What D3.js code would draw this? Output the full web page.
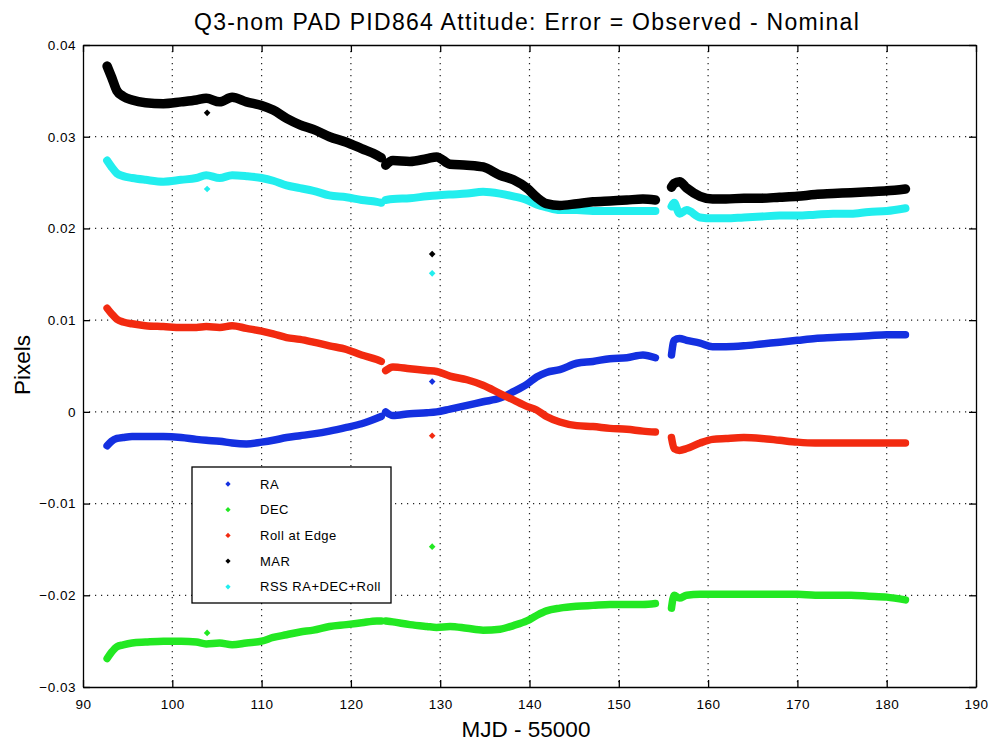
<!DOCTYPE html>
<html>
<head>
<meta charset="utf-8">
<script src="https://cdn.jsdelivr.net/npm/d3@7"></script>
<style>
  body { margin: 0; background: #fff; }
  text { font-family: "Liberation Sans", Arial, sans-serif; fill: #000; }
</style>
</head>
<body>
<div id="visual"></div>
<script>
// MJD - 55000, null = gap in the data
const mjd = [92.7, 93.2, 93.8, 94.5, 95.5, 97, 99, 101, 102.7, 103.8, 105.3, 106.7, 108.3, 110, 111.3, 112.8, 114.3, 115.8, 117.6, 119.5, 121.2, 122.9, 123.4,
  null,
  123.9, 124.7, 126.6, 128.5, 129.6, 131.1, 133, 134.8, 136.7, 138.2, 139.7, 140.8, 141.9, 143.4, 145.3, 147.1, 149, 150.9, 152.7, 154.1,
  null,
  155.9, 156.2, 156.8, 157.6, 159.1, 160.5, 162, 164, 166, 168, 170, 172, 174, 176, 178, 180, 182.1];

const raVals = [-0.0037, -0.0032, -0.0029, -0.0028, -0.0027, -0.0027, -0.0027, -0.0028, -0.0030, -0.0031, -0.0032, -0.0034, -0.0035, -0.0033, -0.0031, -0.0028, -0.0026, -0.0024, -0.0021, -0.0017, -0.0013, -0.0007, -0.0005,
  null,
  0.0000, -0.0004, -0.0002, -0.0001, 0.0000, 0.0003, 0.0007, 0.0011, 0.0015, 0.0022, 0.0030, 0.0038, 0.0043, 0.0046, 0.0053, 0.0055, 0.0058, 0.0059, 0.0062, 0.0059,
  null,
  0.0062, 0.0078, 0.0080, 0.0078, 0.0075, 0.0071, 0.0071, 0.0072, 0.0074, 0.0076, 0.0078, 0.0080, 0.0081, 0.0082, 0.0083, 0.0084, 0.0084];

const decVals = [-0.0269, -0.0262, -0.0256, -0.0254, -0.0252, -0.0251, -0.0250, -0.0250, -0.0251, -0.0253, -0.0252, -0.0254, -0.0252, -0.0250, -0.0246, -0.0243, -0.0240, -0.0238, -0.0234, -0.0232, -0.0230, -0.0228, -0.0228,
  null,
  -0.0228, -0.0229, -0.0232, -0.0234, -0.0235, -0.0234, -0.0236, -0.0238, -0.0237, -0.0233, -0.0228, -0.0222, -0.0217, -0.0214, -0.0212, -0.0211, -0.0210, -0.0210, -0.0210, -0.0209,
  null,
  -0.0214, -0.0200, -0.0203, -0.0200, -0.0199, -0.0199, -0.0199, -0.0199, -0.0199, -0.0199, -0.0199, -0.0200, -0.0200, -0.0200, -0.0201, -0.0202, -0.0205];

const rollVals = [0.0113, 0.0107, 0.0101, 0.0098, 0.0096, 0.0094, 0.0093, 0.0092, 0.0092, 0.0093, 0.0092, 0.0094, 0.0091, 0.0088, 0.0085, 0.0081, 0.0079, 0.0076, 0.0072, 0.0068, 0.0062, 0.0057, 0.0055,
  null,
  0.0045, 0.0049, 0.0047, 0.0045, 0.0044, 0.0039, 0.0035, 0.0029, 0.0020, 0.0013, 0.0006, 0.0002, -0.0005, -0.0011, -0.0015, -0.0016, -0.0018, -0.0019, -0.0021, -0.0022,
  null,
  -0.0028, -0.0040, -0.0042, -0.0040, -0.0034, -0.0030, -0.0029, -0.0028, -0.0029, -0.0031, -0.0033, -0.0034, -0.0034, -0.0034, -0.0034, -0.0034, -0.0034];

const marVals = [0.0377, 0.0365, 0.0350, 0.0344, 0.0340, 0.0337, 0.0336, 0.0338, 0.0340, 0.0342, 0.0338, 0.0343, 0.0338, 0.0334, 0.0329, 0.0320, 0.0313, 0.0308, 0.0300, 0.0294, 0.0287, 0.0280, 0.0277,
  null,
  0.0269, 0.0274, 0.0273, 0.0276, 0.0278, 0.0270, 0.0269, 0.0267, 0.0258, 0.0253, 0.0244, 0.0234, 0.0227, 0.0225, 0.0227, 0.0229, 0.0230, 0.0231, 0.0232, 0.0231,
  null,
  0.0245, 0.0249, 0.0251, 0.0244, 0.0235, 0.0232, 0.0232, 0.0233, 0.0233, 0.0234, 0.0235, 0.0237, 0.0238, 0.0239, 0.0240, 0.0241, 0.0243];

const rssVals = [0.0274, 0.0267, 0.0260, 0.0257, 0.0255, 0.0253, 0.0251, 0.0253, 0.0255, 0.0258, 0.0255, 0.0258, 0.0257, 0.0255, 0.0252, 0.0247, 0.0244, 0.0241, 0.0236, 0.0234, 0.0231, 0.0229, 0.0228,
  null,
  0.0231, 0.0232, 0.0233, 0.0235, 0.0236, 0.0237, 0.0238, 0.0240, 0.0238, 0.0235, 0.0231, 0.0226, 0.0223, 0.0220, 0.0220, 0.0219, 0.0219, 0.0219, 0.0219, 0.0219,
  null,
  0.0224, 0.0228, 0.0216, 0.0220, 0.0212, 0.0211, 0.0211, 0.0212, 0.0213, 0.0214, 0.0214, 0.0215, 0.0216, 0.0216, 0.0218, 0.0219, 0.0222];

// isolated outlying samples
const outlierMjd = [103.9, 129.1];
const raOut = [null, 0.0033];
const decOut = [-0.0241, -0.0147];
const rollOut = [null, -0.0026];
const marOut = [0.0326, 0.0172];
const rssOut = [0.0243, 0.0151];

const seriesNames = ["RA", "DEC", "Roll at Edge", "MAR", "RSS RA+DEC+Roll"];
const xTicks = [90, 100, 110, 120, 130, 140, 150, 160, 170, 180, 190];
const yTicks = [-0.03, -0.02, -0.01, 0, 0.01, 0.02, 0.03, 0.04];

const W = 988, H = 741;
const margin = {top: 45, right: 12, bottom: 54, left: 83};

const svg = d3.select("#visual")
  .append("svg")
    .attr("width", W)
    .attr("height", H);

svg.append("rect").attr("width", W).attr("height", H).attr("fill", "#fff");

const x = d3.scaleLinear().domain([90, 190]).range([margin.left, W - margin.right]);
const y = d3.scaleLinear().domain([-0.03, 0.04]).range([H - margin.bottom, margin.top]);

// dotted grid
const grid = svg.append("g").attr("stroke", "#222").attr("stroke-width", 1.2)
  .attr("stroke-dasharray", "1.2,4.8");
grid.selectAll("line.gx")
  .data(xTicks.slice(1, -1))
  .enter().append("line")
    .attr("x1", d => x(d)).attr("x2", d => x(d))
    .attr("y1", y(0.04)).attr("y2", y(-0.03));
grid.selectAll("line.gy")
  .data(yTicks.slice(1, -1))
  .enter().append("line")
    .attr("x1", x(90)).attr("x2", x(190))
    .attr("y1", d => y(d)).attr("y2", d => y(d));

// series (later entries drawn on top)
const series = [
  {name: seriesNames[0], vals: raVals, out: raOut, color: "#1430e0", w: 7.5},
  {name: seriesNames[1], vals: decVals, out: decOut, color: "#22e822", w: 7.5},
  {name: seriesNames[4], vals: rssVals, out: rssOut, color: "#22eeee", w: 8},
  {name: seriesNames[3], vals: marVals, out: marOut, color: "#000000", w: 9.5},
  {name: seriesNames[2], vals: rollVals, out: rollOut, color: "#f22a10", w: 7.5}
];

const line = d3.line()
  .defined(d => d[1] != null)
  .x(d => x(d[0]))
  .y(d => y(d[1]))
  .curve(d3.curveMonotoneX);

const plot = svg.append("g");
series.forEach(s => {
  const pts = mjd.map((m, i) => [m, s.vals[i]]);
  plot.append("path")
    .datum(pts)
    .attr("d", line)
    .attr("fill", "none")
    .attr("stroke", s.color)
    .attr("stroke-width", s.w)
    .attr("stroke-linecap", "round")
    .attr("stroke-linejoin", "round");

  const outs = outlierMjd.map((m, i) => [m, s.out[i]]).filter(d => d[1] != null);
  plot.selectAll(null)
    .data(outs)
    .enter().append("path")
      .attr("d", d3.symbol(d3.symbolSquare, 22))
      .attr("transform", d => `translate(${x(d[0])},${y(d[1])}) rotate(45)`)
      .attr("fill", s.color);
});

// axes, MATLAB style: ticks inside, box all round
svg.append("g")
  .attr("transform", `translate(0,${y(-0.03)})`)
  .call(d3.axisBottom(x).tickValues(xTicks).tickSize(-7).tickPadding(12).tickSizeOuter(0));
svg.append("g")
  .attr("transform", `translate(${x(90)},0)`)
  .call(d3.axisLeft(y).tickValues(yTicks).tickSize(-7).tickPadding(7).tickSizeOuter(0)
    .tickFormat(d => d === 0 ? "0" : d3.format(".2f")(d)));
svg.append("g")
  .attr("transform", `translate(0,${y(0.04)})`)
  .call(d3.axisTop(x).tickValues(xTicks).tickSize(-7).tickSizeOuter(0).tickFormat(""));
svg.append("g")
  .attr("transform", `translate(${x(190)},0)`)
  .call(d3.axisRight(y).tickValues(yTicks).tickSize(-7).tickSizeOuter(0).tickFormat(""));

svg.selectAll(".domain, .tick line").attr("stroke", "#000").attr("stroke-width", 1.3);
svg.selectAll(".tick text")
  .attr("font-size", 13.5)
  .attr("letter-spacing", "0.5px")
  .attr("font-family", "'Liberation Sans', Arial, sans-serif")
  .attr("fill", "#111");

// legend
const lg = svg.append("g");
lg.append("rect")
  .attr("x", 192).attr("y", 467)
  .attr("width", 199).attr("height", 136)
  .attr("fill", "#fff").attr("stroke", "#000").attr("stroke-width", 1.3);
const legendColors = ["#1430e0", "#22e822", "#f22a10", "#000000", "#22eeee"];
seriesNames.forEach((n, i) => {
  const ly = 484 + i * 25.7;
  lg.append("path")
    .attr("d", d3.symbol(d3.symbolSquare, 14))
    .attr("transform", `translate(228,${ly}) rotate(45)`)
    .attr("fill", legendColors[i]);
  lg.append("text")
    .attr("x", 260).attr("y", ly)
    .attr("dy", "0.36em")
    .attr("font-size", 13)
    .attr("letter-spacing", "0.5px")
    .text(n);
});

// titles
svg.append("text")
  .attr("x", 527).attr("y", 30)
  .attr("text-anchor", "middle")
  .attr("font-size", 23)
  .attr("letter-spacing", "1.3px")
  .text("Q3-nom PAD PID864 Attitude: Error = Observed - Nominal");

svg.append("text")
  .attr("x", 526).attr("y", 737)
  .attr("text-anchor", "middle")
  .attr("font-size", 22.5)
  .attr("fill", "#222")
  .text("MJD - 55000");

svg.append("text")
  .attr("transform", "translate(30,365) rotate(-90)")
  .attr("text-anchor", "middle")
  .attr("font-size", 22.5)
  .attr("fill", "#222")
  .text("Pixels");
</script>
</body>
</html>
